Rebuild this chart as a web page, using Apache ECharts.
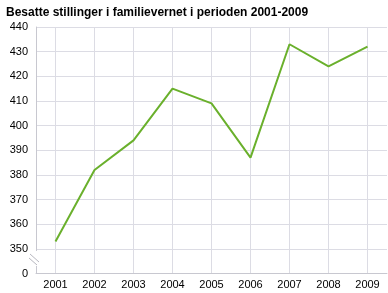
<!DOCTYPE html>
<html>
<head>
<meta charset="utf-8">
<script src="https://cdn.jsdelivr.net/npm/echarts@6/dist/echarts.min.js"></script>
<style>
  html, body { margin: 0; padding: 0; background: #fff; }
  #chart { width: 388px; height: 293px; }
</style>
</head>
<body>
<div id="chart"></div>
<script>
const years = ['2001', '2002', '2003', '2004', '2005', '2006', '2007', '2008', '2009'];
const positions = [353, 382, 394, 415, 409, 387, 433, 424, 432];
// the axis is broken: the bottom tick (340) stands for 0
const axisBottom = 340;
const axisTop = 440;

const chart = echarts.init(document.getElementById('chart'));

const option = {
  animation: false,
  textStyle: { fontFamily: 'Liberation Sans, Arial, sans-serif' },
  title: {
    text: 'Besatte stillinger i familievernet i perioden 2001-2009',
    left: 1,
    top: 2,
    textStyle: { fontSize: 12, fontWeight: 'bold', color: '#000' },
  },
  grid: { left: 36, right: 1, top: 27, bottom: 19.5 },
  xAxis: {
    type: 'category',
    data: years,
    boundaryGap: true,
    axisLine: { show: true, lineStyle: { color: '#c8c8d0' } },
    axisTick: { show: false, alignWithLabel: true },
    axisLabel: { color: '#000', fontSize: 11, margin: 6 },
    splitLine: { show: true, alignWithLabel: true, lineStyle: { color: '#dcdce4', width: 1 } },
  },
  yAxis: {
    type: 'value',
    min: axisBottom,
    max: axisTop,
    interval: 10,
    axisLine: { show: true, lineStyle: { color: '#c8c8d0' } },
    axisTick: { show: false },
    axisLabel: {
      color: '#000',
      fontSize: 11,
      margin: 8,
      formatter: v => (v === axisBottom ? '0' : String(v)),
    },
    splitLine: {
      show: true,
      lineStyle: { color: '#dcdce4', width: 1 },
    },
  },
  graphic: [
    // axis break marks
    { type: 'rect', shape: { x: 28, y: 251, width: 12, height: 15 }, style: { fill: '#fff' }, z: 100 },
    { type: 'line', shape: { x1: 30, y1: 254, x2: 39, y2: 262 }, style: { stroke: '#b8b8c0', lineWidth: 1 }, z: 101 },
    { type: 'line', shape: { x1: 29, y1: 258, x2: 37, y2: 265 }, style: { stroke: '#b8b8c0', lineWidth: 1 }, z: 101 },
  ],
  series: [
    {
      type: 'line',
      data: positions,
      symbol: 'none',
      lineStyle: { color: '#6ab02c', width: 2 },
    },
  ],
};

chart.setOption(option);
</script>
</body>
</html>
